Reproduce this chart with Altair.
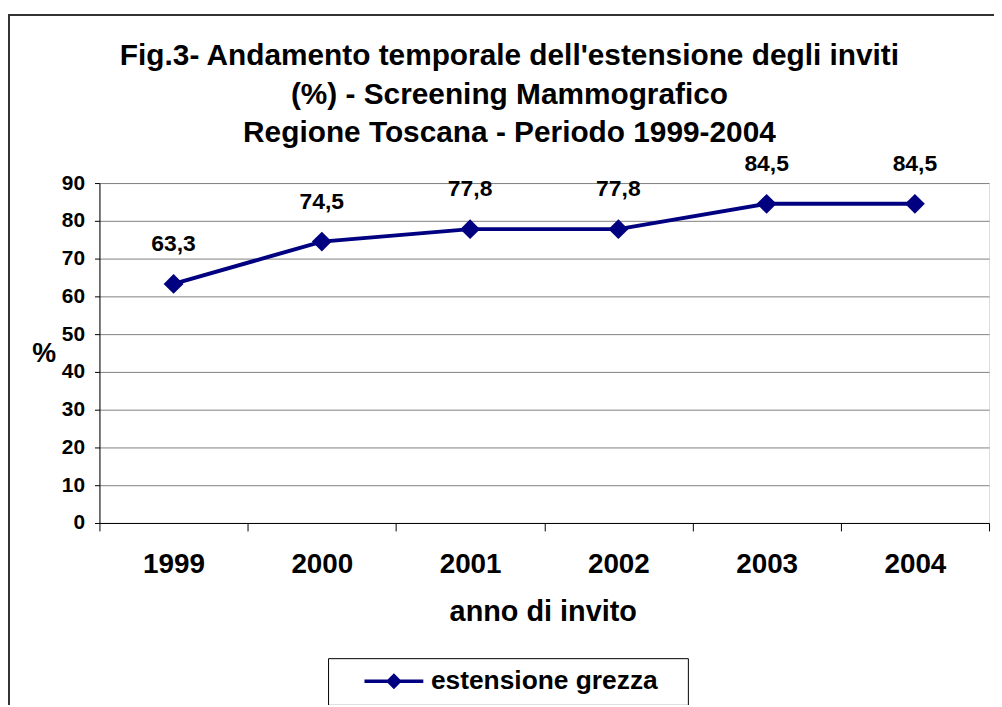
import altair as alt
import pandas as pd

years = ["1999", "2000", "2001", "2002", "2003", "2004"]
values = [63.3, 74.5, 77.8, 77.8, 84.5, 84.5]
series = ["estensione grezza"] * 6
y_ticks = [0, 10, 20, 30, 40, 50, 60, 70, 80, 90]
title_lines = [
    "Fig.3- Andamento temporale dell'estensione degli inviti",
    "(%) - Screening Mammografico",
    "Regione Toscana - Periodo 1999-2004",
]

df = pd.DataFrame({"anno": years, "valore": values, "serie": series})
FONT = "Liberation Sans"
NAVY = "#000080"
NBSP = "\u00a0"

x_enc = alt.X(
    "anno:O",
    scale=alt.Scale(type="band", paddingInner=0, paddingOuter=0),
    bandPosition=0.5,
    axis=alt.Axis(
        title="anno di invito",
        titleFontSize=29, titleFont=FONT, titleFontWeight="bold", titleColor="black",
        titleX=446, titleY=98, titleBaseline="alphabetic", titleAlign="center", titleAngle=0,
        labelFontSize=28, labelFont=FONT, labelFontWeight="bold", labelColor="black",
        labelAngle=0, labelBaseline="alphabetic", labelPadding=42,
        tickSize=8, tickColor="black", tickBand="extent",
        domainColor="black", grid=False,
    ),
)
y_enc = alt.Y(
    "valore:Q",
    scale=alt.Scale(domain=[0, 90], nice=False, zero=True),
    axis=alt.Axis(
        values=y_ticks, title="%",
        titleFontSize=27, titleFont=FONT, titleFontWeight="bold", titleColor="black",
        titleAngle=0, titleX=-56, titleY=180, titleBaseline="alphabetic", titleAlign="center",
        labelFontSize=21, labelFont=FONT, labelFontWeight="bold", labelColor="black",
        labelPadding=10, tickSize=5, tickColor="black", domainColor="black",
        grid=True, gridColor="#808080", gridWidth=1,
    ),
)

base = alt.Chart(df)

line = base.mark_line(color=NAVY, strokeWidth=4).encode(x=x_enc, y=y_enc)

points = base.mark_point(shape="diamond", filled=True, size=400, opacity=1).encode(
    x=x_enc,
    y=y_enc,
    color=alt.Color(
        "serie:N",
        scale=alt.Scale(range=[NAVY]),
        legend=alt.Legend(
            title=NBSP, titleOrient="left", titleFontSize=26, titleColor="white",
            titlePadding=43,
            orient="none", legendX=230, legendY=478,
            strokeColor="black", padding=10,
            symbolType="M-3.7,-0.22L3.7,-0.22L3.7,0.22L-3.7,0.22ZM-1,0L0,-1L1,0L0,1ZM35.7,0Z",
            symbolSize=256, symbolStrokeWidth=0,
            labelFontSize=26.5, labelFont=FONT, labelFontWeight="bold", labelColor="black",
            labelOffset=24, labelLimit=400,
        ),
    ),
)

labels = base.transform_calculate(
    lab="replace(format(datum.valore, '.1f'), '.', ',')"
).mark_text(
    font=FONT, fontSize=23, fontWeight="bold", color="black", dy=-33, baseline="alphabetic"
).encode(x=x_enc, y=y_enc, text="lab:N")

frame = alt.Chart(alt.InlineData(values=[{"f": 1}])).mark_rect(
    filled=False, stroke="#333333", strokeWidth=2
).encode(
    x=alt.value(-91), x2=alt.value(905), y=alt.value(-169), y2=alt.value(540)
)

chart = alt.layer(frame, line, points, labels).properties(
    width=895,
    height=342,
    autosize=alt.AutoSizeParams(type="none"),
    padding={"left": 92, "top": 174, "right": 5, "bottom": 181},
    title=alt.Title(
        text=title_lines, fontSize=30, font=FONT, fontWeight="bold", color="black",
        lineHeight=39, anchor="middle", frame="group", dx=-35, dy=163,
        baseline="alphabetic",
    ),
).configure_view(stroke=None).configure(background="white")

chart.save("out.html", embed_options={"renderer": "svg", "actions": False})
